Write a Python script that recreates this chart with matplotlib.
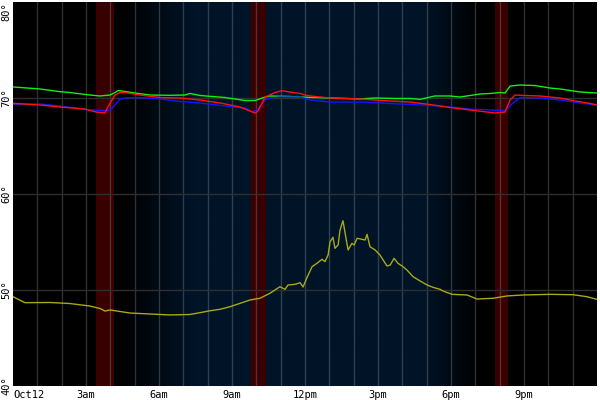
import numpy as np
import matplotlib
matplotlib.use("Agg")
import matplotlib.pyplot as plt
from matplotlib.colors import LinearSegmentedColormap

# ---- data (hours since Oct12 00:00, temperature in °F) ----
green_h = [0, 1.11, 1.93, 2.34, 3.16, 3.58, 3.99, 4.19, 4.32, 4.60, 5.01, 5.63, 6.45, 7.07, 7.27, 7.69,
           8.71, 9.54, 9.95, 10.36, 10.56, 11.38, 11.80, 13.03, 14.26, 14.88, 15.70, 16.32, 16.73, 17.34,
           17.96, 18.37, 18.78, 19.19, 19.61, 20.02, 20.22, 20.43, 20.84, 21.45, 22.07, 22.48, 23.30, 24.0]
green_t = [71.15, 70.94, 70.66, 70.57, 70.31, 70.21, 70.31, 70.57, 70.78, 70.68, 70.52, 70.31, 70.28, 70.31,
           70.47, 70.26, 70.05, 69.74, 69.74, 70.10, 70.21, 70.16, 70.10, 70.00, 69.90, 70.00, 69.95, 69.95,
           69.86, 70.21, 70.21, 70.10, 70.26, 70.42, 70.47, 70.57, 70.52, 71.25, 71.35, 71.30, 71.04, 70.94,
           70.63, 70.52]

red_h = [0, 1.11, 1.93, 2.96, 3.41, 3.78, 3.90, 4.19, 4.40, 4.60, 5.22, 6.04, 6.86, 7.69, 8.51, 9.33, 9.74,
         9.95, 10.07, 10.36, 10.77, 11.06, 11.38, 11.80, 12.0, 12.21, 13.03, 14.26, 15.50, 16.32, 17.14,
         17.96, 18.78, 19.81, 20.22, 20.43, 20.63, 21.04, 21.66, 22.48, 23.10, 23.72, 24.0]
red_t = [69.45, 69.27, 69.06, 68.85, 68.54, 68.44, 69.06, 70.31, 70.57, 70.57, 70.31, 70.05, 70.00, 69.79,
         69.48, 69.06, 68.65, 68.44, 68.65, 70.10, 70.57, 70.76, 70.62, 70.47, 70.31, 70.21, 70.00, 69.90,
         69.69, 69.58, 69.32, 69.01, 68.75, 68.44, 68.54, 69.79, 70.31, 70.26, 70.21, 70.00, 69.69, 69.43,
         69.27]

blue_h = [0, 1.11, 1.93, 3.16, 3.78, 3.99, 4.19, 4.40, 4.60, 5.22, 6.04, 6.86, 7.69, 8.71, 9.54, 9.82,
          10.07, 10.36, 10.56, 10.97, 11.80, 12.21, 13.03, 14.26, 15.91, 17.55, 18.78, 19.61, 20.22, 20.51,
          20.84, 21.66, 22.48, 23.30, 24.0]
blue_t = [69.34, 69.38, 69.17, 68.75, 68.70, 68.75, 69.27, 69.90, 70.00, 70.05, 69.90, 69.64, 69.48, 69.17,
          68.96, 68.54, 68.85, 69.79, 70.00, 70.10, 70.10, 69.79, 69.58, 69.58, 69.38, 69.17, 68.85, 68.75,
          68.70, 69.38, 70.05, 70.00, 69.79, 69.48, 69.27]

yellow_h = [0, 0.49, 1.52, 2.34, 3.16, 3.58, 3.78, 3.99, 4.81, 5.63, 6.45, 7.27, 7.69, 8.10, 8.51, 8.92,
            9.33, 9.74, 10.15, 10.56, 10.97, 11.18, 11.30, 11.59, 11.80, 11.92, 12.08, 12.29, 12.49, 12.70,
            12.82, 12.95, 13.03, 13.15, 13.23, 13.36, 13.44, 13.56, 13.65, 13.77, 13.93, 14.02, 14.14, 14.34,
            14.47, 14.55, 14.67, 14.88, 15.08, 15.21, 15.37, 15.50, 15.66, 15.82, 15.99, 16.19, 16.44, 16.73,
            17.02, 17.26, 17.55, 17.67, 18.04, 18.66, 19.07, 19.73, 20.30, 20.96, 22.07, 23.02, 23.59, 24.0]
yellow_t = [49.30, 48.68, 48.70, 48.59, 48.33, 48.07, 47.81, 47.92, 47.60, 47.50, 47.40, 47.45, 47.64, 47.84,
            47.99, 48.26, 48.61, 48.96, 49.14, 49.66, 50.34, 50.07, 50.52, 50.59, 50.76, 50.31, 51.28, 52.43,
            52.78, 53.20, 52.95, 53.65, 55.03, 55.49, 54.34, 54.69, 56.25, 57.22, 55.91, 54.17, 54.86, 54.69,
            55.39, 55.28, 55.21, 55.80, 54.51, 54.17, 53.65, 53.13, 52.50, 52.60, 53.30, 52.78, 52.50, 52.08,
            51.39, 50.94, 50.52, 50.28, 50.07, 49.90, 49.55, 49.48, 49.06, 49.14, 49.38, 49.48, 49.55, 49.51,
            49.30, 49.03]

# red event bands (start, end) in hours
bands = [(3.41, 4.15), (9.78, 10.38), (19.81, 20.33)]

xtick_pos = [0, 3, 6, 9, 12, 15, 18, 21]
xtick_lab = ["Oct12", "3am", "6am", "9am", "12pm", "3pm", "6pm", "9pm"]
ytick_pos = [40, 50, 60, 70, 80]
ytick_lab = ["40°", "50°", "60°", "70°", "80°"]

# daylight shading anchors (hour, fraction of navy)
shade_h = [0, 4.5, 7.5, 16.8, 19.2, 24]
shade_v = [0, 0, 1, 1, 0, 0]

# ---- figure ----
fig = plt.figure(figsize=(6, 4), dpi=100, facecolor="white")
ax = fig.add_axes([13 / 600, 14 / 400, 584 / 600, 384 / 400])
ax.set_facecolor("black")
ax.set_xlim(0, 24)
ax.set_ylim(40, 80)

# background gradient
xs = np.linspace(0, 24, 600)
vals = np.interp(xs, shade_h, shade_v)
cmap = LinearSegmentedColormap.from_list("sky", ["#000000", "#001428"])
ax.imshow(vals[np.newaxis, :], aspect="auto", cmap=cmap, vmin=0, vmax=1,
          extent=[0, 24, 40, 80], origin="lower", zorder=0, interpolation="bilinear")

for s, e in bands:
    ax.axvspan(s, e, color="#380000", zorder=1, lw=0)

for h in range(1, 24):
    ax.axvline(h, color="white", alpha=0.19, lw=1, zorder=2)
for t in [50, 60, 70]:
    ax.axhline(t, color="#2e2e2e", lw=1, zorder=2)

ax.plot(yellow_h, yellow_t, color="#a8a818", lw=1, zorder=3)
ax.plot(green_h, green_t, color="#10f010", lw=1, zorder=3)
ax.plot(blue_h, blue_t, color="#1414ff", lw=1, zorder=4)
ax.plot(red_h, red_t, color="#ff1010", lw=1, zorder=5)

for sp in ax.spines.values():
    sp.set_visible(False)

ax.set_xticks(xtick_pos)
ax.set_xticklabels(xtick_lab, family="DejaVu Sans Mono", fontsize=7.5)
ax.get_xticklabels()[0].set_horizontalalignment("left")
ax.tick_params(axis="x", length=0, pad=3)
ax.set_yticks(ytick_pos)
ax.set_yticklabels(ytick_lab, family="DejaVu Sans Mono", fontsize=7.5, rotation=90, va="center")
ax.get_yticklabels()[-1].set_verticalalignment("top")
ax.tick_params(axis="y", length=0, pad=1)

fig.savefig("out.png", dpi=100, facecolor="white")
